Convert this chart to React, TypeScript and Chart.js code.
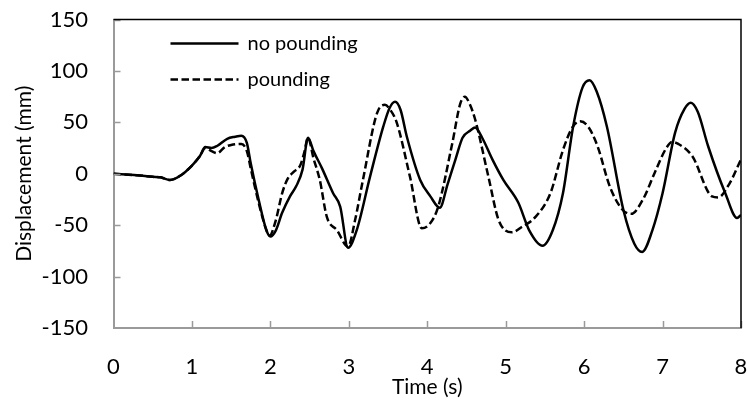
import React, { useEffect, useRef } from "react";
import { Chart, registerables } from "chart.js";

Chart.register(...registerables);

const seriesLabels = ["no pounding", "pounding"];

const noPoundingTime = [0, 0.3, 0.5, 0.6, 0.72, 0.85, 1.0, 1.1, 1.17, 1.25, 1.32, 1.45, 1.55, 1.63, 1.7, 1.75, 1.85, 1.95, 2.0, 2.07, 2.15, 2.25, 2.33, 2.41, 2.48, 2.55, 2.66, 2.8, 2.89, 2.99, 3.1, 3.27, 3.44, 3.52, 3.59, 3.66, 3.74, 3.91, 4.04, 4.16, 4.26, 4.36, 4.45, 4.55, 4.61, 4.7, 4.83, 4.97, 5.16, 5.3, 5.47, 5.6, 5.73, 5.86, 5.98, 6.07, 6.16, 6.29, 6.5, 6.64, 6.74, 6.87, 7.0, 7.16, 7.28, 7.36, 7.45, 7.58, 7.8, 7.95, 8.0];
const noPoundingValue = [0, -1.5, -3, -3.5, -6, -2, 8, 17, 26, 25, 27, 34, 36, 37, 30, 10, -25, -55, -61, -55, -38, -22, -12, 4, 35, 22, 5, -19, -32, -72, -55, -3, 46, 64, 70, 62, 36, -6, -22, -33, -10, 14, 35, 42, 45, 35, 14, -6, -28, -55, -70, -55, -19, 46, 84, 91, 80, 46, -35, -68, -76, -55, -19, 40, 63, 69, 60, 27, -19, -43, -40];

const poundingTime = [0, 0.3, 0.5, 0.6, 0.72, 0.85, 1.0, 1.1, 1.17, 1.25, 1.32, 1.42, 1.5, 1.63, 1.7, 1.75, 1.85, 1.95, 1.99, 2.07, 2.15, 2.22, 2.3, 2.38, 2.43, 2.48, 2.55, 2.63, 2.72, 2.85, 2.99, 3.08, 3.18, 3.36, 3.46, 3.53, 3.61, 3.78, 3.93, 4.04, 4.14, 4.32, 4.42, 4.48, 4.54, 4.61, 4.78, 4.91, 5.08, 5.2, 5.38, 5.57, 5.73, 5.85, 5.95, 6.05, 6.17, 6.33, 6.49, 6.6, 6.75, 6.9, 7.04, 7.12, 7.2, 7.38, 7.63, 7.71, 7.85, 8.0];
const poundingValue = [0, -1.5, -3, -3.5, -6, -2, 8, 17, 25, 22, 20, 26, 28, 29, 22, 5, -28, -55, -60, -45, -19, -5, 2, 8, 20, 35, 15, -6, -42, -55, -71, -45, -6, 59, 67, 62, 50, -3, -53, -48, -32, 30, 68, 75, 68, 53, -3, -45, -57, -52, -42, -19, 23, 45, 51, 46, 27, -13, -35, -39, -25, 1, 24, 31, 29, 17, -22, -23, -10, 14];

const xTicks = [0, 1, 2, 3, 4, 5, 6, 7, 8];
const yTicks = [-150, -100, -50, 0, 50, 100, 150];

const FONT = "Lato, 'Open Sans', sans-serif";
const AXIS_GRAY = "#9a9a9a";

const framePlugin = {
  id: "frameAndLegend",
  afterDraw(chart: any) {
    const { ctx, chartArea } = chart;
    const xs = chart.scales.x;
    const ys = chart.scales.y;
    ctx.save();
    // inward tick marks
    ctx.strokeStyle = AXIS_GRAY;
    ctx.lineWidth = 1.5;
    ctx.beginPath();
    xTicks.forEach((v) => {
      const px = Math.round(xs.getPixelForValue(v)) + 0.5;
      if (v === xTicks[0]) return;
      ctx.moveTo(px, chartArea.bottom);
      ctx.lineTo(px, chartArea.bottom - 7);
    });
    yTicks.forEach((v) => {
      const py = Math.round(ys.getPixelForValue(v)) + 0.5;
      if (v === yTicks[0]) return;
      ctx.moveTo(chartArea.left, py);
      ctx.lineTo(chartArea.left + 7, py);
    });
    ctx.stroke();
    // top and right frame
    ctx.strokeStyle = "#000";
    ctx.lineWidth = 1.5;
    ctx.beginPath();
    ctx.moveTo(chartArea.left, chartArea.top);
    ctx.lineTo(chartArea.right, chartArea.top);
    ctx.lineTo(chartArea.right, chartArea.bottom);
    ctx.stroke();
    // legend
    const x0 = chartArea.left + 57;
    const lineLen = 68;
    const y0 = chartArea.top + 24;
    const gap = 36;
    chart.data.datasets.forEach((ds: any, i: number) => {
      const y = y0 + i * gap;
      ctx.beginPath();
      ctx.setLineDash(ds.borderDash || []);
      ctx.lineWidth = ds.borderWidth;
      ctx.strokeStyle = ds.borderColor;
      ctx.moveTo(x0, y);
      ctx.lineTo(x0 + lineLen, y);
      ctx.stroke();
      ctx.setLineDash([]);
      ctx.fillStyle = "#000";
      ctx.font = `20px ${FONT}`;
      ctx.textBaseline = "middle";
      ctx.textAlign = "left";
      ctx.fillText(ds.label, x0 + lineLen + 9, y);
    });
    ctx.restore();
  },
};

export default function App() {
  const ref = useRef<HTMLCanvasElement | null>(null);
  useEffect(() => {
    if (!ref.current) return;
    const chart = new Chart(ref.current, {
      type: "line",
      data: {
        datasets: [
          {
            label: seriesLabels[0],
            data: noPoundingTime.map((t, i) => ({ x: t, y: noPoundingValue[i] })),
            borderColor: "#000",
            borderWidth: 2.5,
            pointRadius: 0,
            cubicInterpolationMode: "monotone",
            fill: false,
          },
          {
            label: seriesLabels[1],
            data: poundingTime.map((t, i) => ({ x: t, y: poundingValue[i] })),
            borderColor: "#000",
            borderWidth: 2.5,
            borderDash: [7.5, 3.5],
            pointRadius: 0,
            cubicInterpolationMode: "monotone",
            fill: false,
          },
        ],
      },
      options: {
        animation: false,
        responsive: false,
        maintainAspectRatio: false,
        layout: { padding: { left: 0, right: 6, top: 19.5, bottom: 0 } },
        plugins: { legend: { display: false }, tooltip: { enabled: false } },
        scales: {
          x: {
            type: "linear",
            min: 0,
            max: 8,
            afterBuildTicks: (s: any) => {
              s.ticks = xTicks.map((v) => ({ value: v }));
            },
            afterFit: (s: any) => {
              s.height = 73;
              s.paddingLeft = 0;
              s.paddingRight = 0;
              s.paddingTop = 0;
              s.paddingBottom = 0;
            },
            grid: { drawOnChartArea: false, drawTicks: false, color: AXIS_GRAY },
            border: { display: true, color: AXIS_GRAY, width: 2 },
            ticks: { color: "#000", font: { family: FONT, size: 22 }, padding: 26, maxRotation: 0 },
            title: { display: true, text: "Time (s)", color: "#000", font: { family: FONT, size: 21 }, padding: { top: 0, bottom: 1 } },
          },
          y: {
            type: "linear",
            min: -150,
            max: 150,
            afterBuildTicks: (s: any) => {
              s.ticks = yTicks.map((v) => ({ value: v }));
            },
            afterFit: (s: any) => {
              s.width = 113.5;
              s.paddingLeft = 0;
              s.paddingRight = 0;
              s.paddingTop = 0;
              s.paddingBottom = 0;
            },
            grid: { drawOnChartArea: false, drawTicks: false, color: AXIS_GRAY },
            border: { display: true, color: AXIS_GRAY, width: 2 },
            ticks: { color: "#000", font: { family: FONT, size: 22 }, padding: 25.5 },
            title: { display: true, text: "Displacement (mm)", color: "#000", font: { family: FONT, size: 21 }, padding: { top: 12, bottom: 0 } },
          },
        },
      },
      plugins: [framePlugin],
    } as any);
    return () => chart.destroy();
  }, []);
  return (
    <div style={{ position: "absolute", left: 0, top: 0, width: 747, height: 401, background: "#fff" }}>
      <canvas ref={ref} width={747} height={401} style={{ width: 747, height: 401 }} />
    </div>
  );
}
